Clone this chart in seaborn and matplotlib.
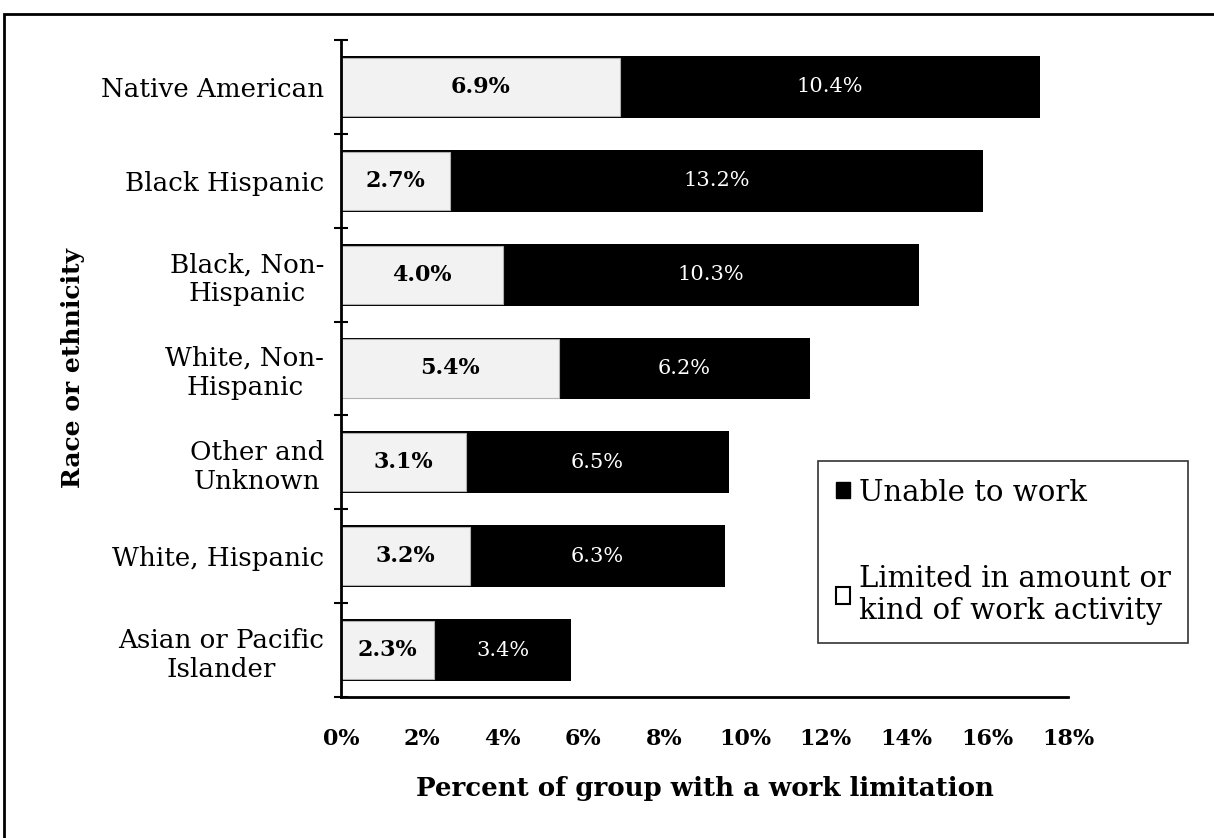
import matplotlib
matplotlib.use("Agg")
import matplotlib.pyplot as plt
import seaborn as sns
import numpy as np
import pandas as pd
from matplotlib.patches import Patch, Rectangle
from matplotlib.ticker import FixedLocator

categories = ["Native American", "Black Hispanic", "Black, Non-\nHispanic",
              "White, Non-\nHispanic", "Other and\nUnknown", "White, Hispanic",
              "Asian or Pacific\nIslander"]
limited = [6.9, 2.7, 4.0, 5.4, 3.1, 3.2, 2.3]
unable = [10.4, 13.2, 10.3, 6.2, 6.5, 6.3, 3.4]
xticks = [0, 2, 4, 6, 8, 10, 12, 14, 16, 18]

sns.set_theme(style="white")
plt.rcParams["font.family"] = ["DejaVu Serif"]
plt.rcParams.update({"text.color": "black", "axes.labelcolor": "black",
                     "xtick.color": "black", "ytick.color": "black"})

df = pd.DataFrame({"cat": categories, "limited": limited, "unable": unable})
df["total"] = df["limited"] + df["unable"]

fig = plt.figure(figsize=(12.14, 8.38), dpi=100)
ax = fig.add_axes([341/1214, 1-697/838, (1068-341)/1214, (697-40)/838])

sns.barplot(data=df, y="cat", x="total", orient="h", color="black",
            width=0.66, ax=ax, edgecolor="black", linewidth=0)
sns.barplot(data=df, y="cat", x="limited", orient="h", color="#f2f2f2",
            width=0.62, ax=ax, edgecolor="#b0b0b0", linewidth=0.8)

for i, (l, u) in enumerate(zip(limited, unable)):
    ax.text(l/2, i, f"{l:.1f}%", ha="center", va="center",
            fontsize=16, fontweight="bold", color="black")
    ax.text(l + u/2, i, f"{u:.1f}%", ha="center", va="center",
            fontsize=15, color="white")

ax.set_xlim(0, 18)
ax.set_ylim(6.5, -0.5)
ax.set_xticks(xticks)
ax.set_xticklabels([f"{t}%" for t in xticks], fontsize=16, fontweight="bold")
ax.tick_params(axis="x", direction="inout", length=12, width=1.5, pad=16)
ax.yaxis.set_minor_locator(FixedLocator(np.arange(-0.5, 7, 1)))
ax.tick_params(axis="y", which="major", length=0, pad=12, labelsize=18.8)
ax.tick_params(axis="y", which="minor", direction="inout", length=10, width=1.5, left=True)
for lab in ax.get_yticklabels():
    lab.set_multialignment("center")

for s in ["top", "right"]:
    ax.spines[s].set_visible(False)
for s in ["left", "bottom"]:
    ax.spines[s].set_color("black")
    ax.spines[s].set_linewidth(2)

ax.set_ylabel("Race or ethnicity", fontsize=18, fontweight="bold", labelpad=12)
ax.set_xlabel("Percent of group with a work limitation", fontsize=18.7,
              fontweight="bold", labelpad=19)
ax.grid(False)

handles = [Patch(facecolor="black", edgecolor="black", label="Unable to work"),
           Patch(facecolor="white", edgecolor="black", linewidth=1.5,
                 label="Limited in amount or\nkind of work activity")]
leg = fig.legend(handles=handles, loc="upper left",
                 bbox_to_anchor=(818/1214, 1-461/838), fontsize=21,
                 frameon=True, fancybox=False, edgecolor="black",
                 handlelength=0.5, handleheight=0.5, handletextpad=0.3,
                 labelspacing=2.0, borderpad=0.6, borderaxespad=0)
leg.get_frame().set_linewidth(1.2)

fig.patches.append(Rectangle((4/1214, -0.05), 1.2, 1-14/838 + 0.05,
                             transform=fig.transFigure, fill=False,
                             edgecolor="black", linewidth=2))

fig.savefig("out.png", dpi=100)
